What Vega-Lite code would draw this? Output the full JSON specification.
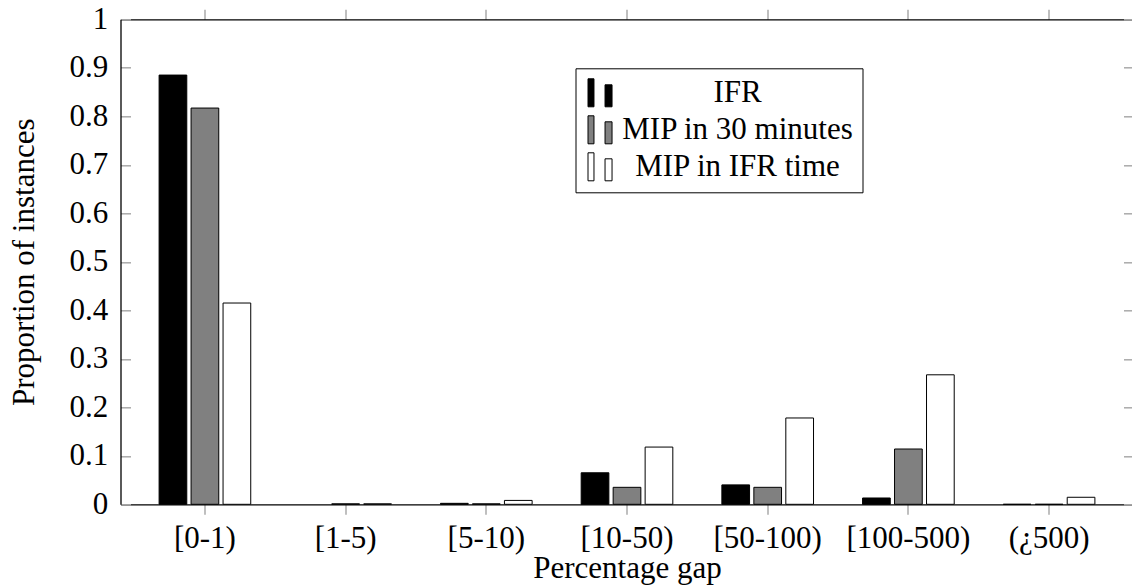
{
  "$schema": "https://vega.github.io/schema/vega-lite/v6.json",
  "width": 1013,
  "height": 485,
  "autosize": {"type": "none"},
  "padding": {"left": 120.5, "top": 19.3, "right": 0, "bottom": 83.7},
  "background": "white",
  "config": {
    "view": {"stroke": null},
    "font": "Liberation Serif",
    "axis": {
      "labelFont": "Liberation Serif",
      "labelFontSize": 31,
      "labelColor": "black",
      "titleFont": "Liberation Serif",
      "titleFontSize": 31,
      "titleFontWeight": "normal",
      "titleColor": "black",
      "domainColor": "black",
      "domainWidth": 1.3,
      "tickColor": "#aaaaaa",
      "tickWidth": 1.5,
      "grid": false
    }
  },
  "data": {
    "values": [
      {"cat": "[0-1)", "series": "IFR", "value": 0.885},
      {"cat": "[0-1)", "series": "MIP in 30 minutes", "value": 0.817},
      {"cat": "[0-1)", "series": "MIP in IFR time", "value": 0.415},
      {"cat": "[1-5)", "series": "MIP in 30 minutes", "value": 0.001},
      {"cat": "[1-5)", "series": "MIP in IFR time", "value": 0.001},
      {"cat": "[5-10)", "series": "IFR", "value": 0.002},
      {"cat": "[5-10)", "series": "MIP in 30 minutes", "value": 0.001},
      {"cat": "[5-10)", "series": "MIP in IFR time", "value": 0.008},
      {"cat": "[10-50)", "series": "IFR", "value": 0.065},
      {"cat": "[10-50)", "series": "MIP in 30 minutes", "value": 0.035},
      {"cat": "[10-50)", "series": "MIP in IFR time", "value": 0.118},
      {"cat": "[50-100)", "series": "IFR", "value": 0.04},
      {"cat": "[50-100)", "series": "MIP in 30 minutes", "value": 0.035},
      {"cat": "[50-100)", "series": "MIP in IFR time", "value": 0.178},
      {"cat": "[100-500)", "series": "IFR", "value": 0.013},
      {"cat": "[100-500)", "series": "MIP in 30 minutes", "value": 0.114},
      {"cat": "[100-500)", "series": "MIP in IFR time", "value": 0.267},
      {"cat": "(¿500)", "series": "IFR", "value": 0.0},
      {"cat": "(¿500)", "series": "MIP in 30 minutes", "value": 0.0},
      {"cat": "(¿500)", "series": "MIP in IFR time", "value": 0.0145}
    ]
  },
  "layer": [
    {
      "mark": {"type": "bar", "stroke": "black", "strokeWidth": 1},
      "encoding": {
        "x": {
          "field": "cat",
          "type": "nominal",
          "sort": ["[0-1)", "[1-5)", "[5-10)", "[10-50)", "[50-100)", "[100-500)", "(¿500)"],
          "scale": {"paddingInner": 0, "paddingOuter": 0.1},
          "axis": {
            "orient": "bottom",
            "title": "Percentage gap",
            "labelAngle": 0,
            "tickSize": 10,
            "labelPadding": 9,
            "titlePadding": 0
          }
        },
        "xOffset": {
          "field": "series",
          "type": "nominal",
          "sort": ["IFR", "MIP in 30 minutes", "MIP in IFR time"],
          "scale": {"paddingInner": 0.134, "paddingOuter": 0.767}
        },
        "y": {
          "field": "value",
          "type": "quantitative",
          "scale": {"domain": [0, 1], "nice": false, "zero": true},
          "axis": {
            "orient": "left",
            "title": "Proportion of instances",
            "values": [0, 0.1, 0.2, 0.3, 0.4, 0.5, 0.6, 0.7, 0.8, 0.9, 1],
            "labelExpr": "datum.value == 0 ? '0' : datum.value == 1 ? '1' : format(datum.value, '.1f')",
            "tickSize": -10,
            "labelPadding": 22.7,
            "titlePadding": 29
          }
        },
        "fill": {
          "field": "series",
          "type": "nominal",
          "sort": ["IFR", "MIP in 30 minutes", "MIP in IFR time"],
          "scale": {"domain": ["IFR", "MIP in 30 minutes", "MIP in IFR time"], "range": ["#000000", "#808080", "#ffffff"]},
          "legend": {
            "title": null,
            "orient": "none",
            "legendX": 455,
            "legendY": 49,
            "strokeColor": "black",
            "fillColor": "white",
            "padding": 9,
            "labelFont": "Liberation Serif",
            "labelFontSize": 31,
            "labelColor": "black",
            "labelAlign": "center",
            "labelOffset": 122,
            "labelLimit": 400,
            "rowPadding": 4,
            "symbolType": "M-0.857,-1H-0.43V1H-0.857Z M0.36,-0.57H0.86V1H0.36Z",
            "symbolSize": 784,
            "symbolStrokeColor": "black",
            "symbolStrokeWidth": 1
          }
        }
      }
    },
    {
      "mark": {"type": "tick", "opacity": 0},
      "encoding": {
        "x": {
          "field": "cat",
          "type": "nominal",
          "sort": ["[0-1)", "[1-5)", "[5-10)", "[10-50)", "[50-100)", "[100-500)", "(¿500)"],
          "axis": {"orient": "top", "title": null, "labels": false, "tickSize": 10}
        },
        "y": {
          "field": "value",
          "type": "quantitative",
          "axis": {
            "orient": "right",
            "title": null,
            "labels": false,
            "values": [0, 0.1, 0.2, 0.3, 0.4, 0.5, 0.6, 0.7, 0.8, 0.9, 1],
            "tickSize": -10
          }
        }
      }
    }
  ],
  "resolve": {"axis": {"x": "independent", "y": "independent"}}
}
